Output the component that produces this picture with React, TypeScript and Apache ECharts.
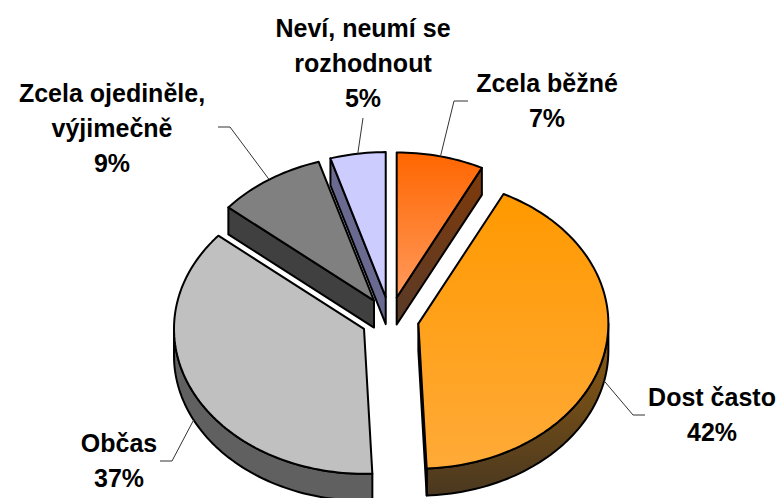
import React, { useEffect, useRef } from "react";
import * as echarts from "echarts";

// ---- data ----
const categories = [
  "Zcela běžné",
  "Dost často",
  "Občas",
  "Zcela ojediněle,\nvýjimečně",
  "Neví, neumí se\nrozhodnout",
];
const shares = [7.4, 41.9, 36.8, 9.2, 4.7];

// ---- styles ----
const topColors = [
  ["#FF6600", "#FF9A5C"],
  ["#FF9900", "#FFAA38"],
  ["#C0C0C0", "#C0C0C0"],
  ["#808080", "#808080"],
  ["#CCCCFF", "#CCCCFF"],
];
const sideColors = [
  ["#803A0A", "#583A28"],
  ["#905C10", "#4A3820"],
  ["#606060", "#606060"],
  ["#404040", "#404040"],
  ["#6A6A90", "#6A6A90"],
];

// ---- layout ----
const labelCenters = [
  [547, 100],
  [712, 414],
  [119, 460],
  [112, 128],
  [363, 63],
];
const leaderElbows = [
  [[454, 101], [468, 101]],
  [[633, 415], [645, 415]],
  [[172, 461], [160, 461]],
  [[230, 127], [218, 127]],
  [[363, 118]],
];

const CX = 390, CY = 319, RX = 190, RY = 145, DEPTH = 27, EXPLODE = 29;

const rad = (d: number) => (d * Math.PI) / 180;
const grad = (c: string[]) =>
  new echarts.graphic.LinearGradient(0, 0, 0, 1, [
    { offset: 0, color: c[0] },
    { offset: 1, color: c[1] },
  ]);

export default function App() {
  const ref = useRef<HTMLDivElement>(null);
  useEffect(() => {
    if (!ref.current) return;
    const chart = echarts.init(ref.current, null, { renderer: "svg" });
    const total = shares.reduce((a, b) => a + b, 0);
    const starts: number[] = [];
    let acc = 0;
    shares.forEach((v) => {
      starts.push((acc / total) * 360);
      acc += v;
    });

    const renderItem = (params: any, api: any) => {
      const i = params.dataIndex;
      const v = api.value(0);
      const a0 = starts[i];
      const a1 = a0 + (v / total) * 360;
      const mid = (a0 + a1) / 2;
      const ax = CX + EXPLODE * Math.sin(rad(mid));
      const ay = CY - EXPLODE * (RY / RX) * Math.cos(rad(mid));
      const rim = (a: number, dy = 0) => [
        ax + RX * Math.sin(rad(a)),
        ay - RY * Math.cos(rad(a)) + dy,
      ];
      const arc = (from: number, to: number, dy = 0) => {
        const n = Math.max(2, Math.ceil((to - from) / 1.5));
        const pts: number[][] = [];
        for (let k = 0; k <= n; k++) pts.push(rim(from + ((to - from) * k) / n, dy));
        return pts;
      };
      const stroke = { stroke: "#000", lineWidth: 2, lineJoin: "round" };
      const base = Math.round(ay) * 3;
      const children: any[] = [];
      const sideFill = grad(sideColors[i]);

      const w0 = Math.max(a0, 90), w1 = Math.min(a1, 270);
      if (w1 > w0) {
        children.push({
          type: "polygon",
          z2: base,
          shape: { points: [...arc(w0, w1), ...arc(w0, w1, DEPTH).reverse()] },
          style: { fill: sideFill, ...stroke },
        });
      }
      const radial = (a: number) => {
        const r = rim(a);
        return {
          type: "polygon",
          z2: base,
          shape: { points: [[ax, ay], r, [r[0], r[1] + DEPTH], [ax, ay + DEPTH]] },
          style: { fill: sideFill, ...stroke },
        };
      };
      if (Math.sin(rad(a0)) < -1e-6) children.push(radial(a0));
      if (Math.sin(rad(a1)) > 1e-6) children.push(radial(a1));

      children.push({
        type: "polygon",
        z2: base + 1,
        shape: { points: [[ax, ay], ...arc(a0, a1)] },
        style: { fill: grad(topColors[i]), ...stroke },
      });

      const front = Math.cos(rad(mid)) < 0;
      const end = rim(mid, front ? DEPTH : 0);
      children.push({
        type: "polyline",
        z2: 5000,
        shape: { points: [end, ...leaderElbows[i]] },
        style: { stroke: "#333", lineWidth: 1, fill: null },
      });
      children.push({
        type: "text",
        z2: 5001,
        x: labelCenters[i][0],
        y: labelCenters[i][1],
        style: {
          text: categories[i] + "\n" + Math.round(v) + "%",
          font: 'bold 25px "Liberation Sans", Arial, sans-serif',
          fill: "#000",
          align: "center",
          verticalAlign: "middle",
          textAlign: "center",
          textVerticalAlign: "middle",
          lineHeight: 35,
        },
      });
      return { type: "group", children };
    };

    chart.setOption({
      animation: false,
      series: [
        {
          type: "custom",
          coordinateSystem: "none",
          renderItem,
          data: shares.map((v, i) => ({ name: categories[i], value: v })),
        },
      ],
    });
    return () => chart.dispose();
  }, []);
  return (
    <div
      ref={ref}
      style={{ position: "fixed", left: 0, top: 0, width: 777, height: 498, background: "#fff" }}
    />
  );
}
